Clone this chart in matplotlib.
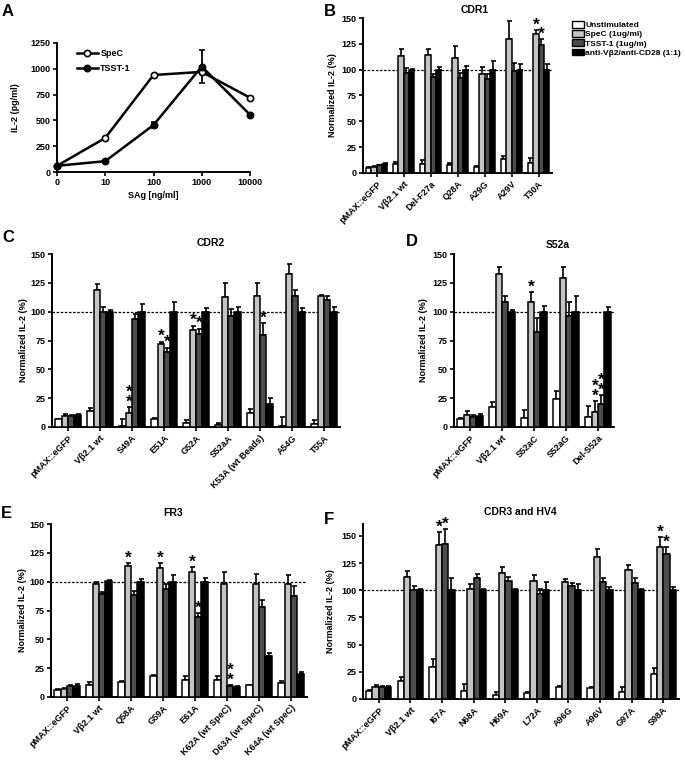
import matplotlib
matplotlib.use('Agg')
import matplotlib.pyplot as plt
from matplotlib.patches import Patch
from matplotlib.lines import Line2D
import numpy as np

plt.rcParams['font.family'] = ['Liberation Sans', 'DejaVu Sans']
plt.rcParams['font.weight'] = 'bold'
plt.rcParams['axes.labelweight'] = 'bold'
plt.rcParams['axes.linewidth'] = 1.4

# ---------------- Panel A data ----------------
a_doses = ['0', '10', '100', '1000', '10000']
a_spec = [60, 330, 940, 970, 720]
a_spec_err = [8, 10, 10, 20, 10]
a_tsst = [60, 105, 455, 1022, 555]
a_tsst_err = [8, 10, 33, 163, 10]

series_labels = ['Unstimulated', 'SpeC (1ug/ml)', 'TSST-1 (1ug/m)', 'anti-V\u03b22/anti-CD28 (1:1)']
bar_colors = ['white', '#c4c4c4', '#4d4d4d', 'black']

# ---------------- Panel B (CDR1) ----------------
b_cats = ['pMAX::eGFP', 'V\u03b22.1 wt', 'Del-F27a', 'Q28A', 'A29G', 'A29V', 'T30A']
b_unstim = [5, 9, 8.4, 7.7, 6, 13.5, 9.3]
b_spec = [6, 113.5, 114.5, 111, 96, 130, 134.7]
b_tsst = [7.5, 97, 93, 92, 90.7, 98.7, 124]
b_anti = [9, 100, 99.5, 100, 100, 100, 100]
b_unstim_err = [0.7, 2, 4, 1.6, 1, 3.2, 5.5]
b_spec_err = [0.7, 6.5, 5.5, 11.5, 7, 17, 3.3]
b_tsst_err = [0.7, 5, 2.5, 5, 5.3, 8, 6]
b_anti_err = [1, 1, 3, 4, 8, 5.5, 5]
b_stars = [(6, 1, 1), (6, 2, 1)]

# ---------------- Panel C (CDR2) ----------------
c_cats = ['pMAX::eGFP', 'V\u03b22.1 wt', 'S49A', 'E51A', 'G52A', 'S52aA', 'K53A (wt Beads)', 'A54G', 'T55A']
c_unstim = [6.7, 14, 1, 7.2, 3.5, 2, 12.5, 0.5, 3]
c_spec = [9.3, 118.7, 12, 71.8, 84, 113, 113.8, 133, 113.8]
c_tsst = [9.3, 100, 94, 65, 81, 96.4, 79.4, 113.5, 110]
c_anti = [10.1, 100, 100, 100, 100, 100, 20, 100, 100]
c_unstim_err = [0.5, 2.8, 5.7, 0.8, 2.3, 1.8, 2.8, 8.5, 3.4]
c_spec_err = [1.7, 5.3, 5.4, 2.2, 3.7, 11.5, 10.7, 8, 0.6]
c_tsst_err = [1, 4, 3.6, 3.6, 4.4, 5.6, 10.4, 5.2, 3.8]
c_anti_err = [1.4, 1.4, 7, 8, 3, 3.8, 5, 3, 3.8]
c_stars = [(2, 1, 2), (3, 1, 1), (3, 2, 1), (4, 1, 1), (4, 2, 1), (6, 2, 1)]

# ---------------- Panel D (S52a) ----------------
d_cats = ['pMAX::eGFP', 'V\u03b22.1 wt', 'S52aC', 'S52aG', 'Del-S52a']
d_unstim = [7, 17.3, 7.8, 24.5, 8.7]
d_spec = [10.7, 133, 108.7, 129, 13]
d_tsst = [8.6, 108, 82.8, 96.3, 20]
d_anti = [9.8, 100, 100, 100, 100]
d_unstim_err = [0.8, 4.7, 7.2, 6.5, 9.2]
d_spec_err = [2.8, 5.5, 8.1, 10, 9.8]
d_tsst_err = [2.1, 5.6, 11.5, 11.7, 8]
d_anti_err = [1.7, 1.5, 5, 14, 4.3]
d_stars = [(2, 1, 1), (4, 1, 2), (4, 2, 2)]

# ---------------- Panel E (FR3) ----------------
e_cats = ['pMAX::eGFP', 'V\u03b22.1 wt', 'Q58A', 'G59A', 'E61A', 'K62A (wt SpeC)', 'D63A (wt SpeC)', 'K64A (wt SpeC)']
e_unstim = [6.4, 10.7, 13, 17.9, 15, 15, 10, 12]
e_spec = [7.2, 98, 114, 112, 108.7, 98, 98, 98]
e_tsst = [9.8, 89.3, 88.7, 93.6, 69, 9.2, 77.7, 87.3]
e_anti = [9.2, 100.6, 100, 100, 100, 8.7, 35.8, 20]
e_unstim_err = [0.6, 2.6, 0.6, 1.5, 3, 3.5, 0.7, 1.6]
e_spec_err = [0.8, 1.4, 2, 4, 4, 10, 8.6, 8]
e_tsst_err = [0.9, 1.5, 2.9, 4.4, 3.8, 1.5, 6.7, 8.7]
e_anti_err = [1.8, 0.8, 2.6, 6, 3, 0.6, 2.2, 1.4]
e_stars = [(2, 1, 1), (3, 1, 1), (4, 1, 1), (4, 2, 1), (5, 2, 2)]

# ---------------- Panel F (CDR3 and HV4) ----------------
f_cats = ['pMAX::eGFP', 'V\u03b22.1 wt', 'I67A', 'N68A', 'H69A', 'L72A', 'A96G', 'A96V', 'G97A', 'S98A']
f_unstim = [7.7, 16.5, 29.7, 7.3, 3.7, 5.2, 11.3, 9.8, 6.1, 22.6]
f_spec = [10.7, 112.3, 142, 101, 116, 109, 107.7, 130.7, 119, 140]
f_tsst = [10.7, 100, 143, 111.4, 108.4, 97, 104, 107.7, 106.8, 133]
f_anti = [10.7, 100.6, 100, 100.6, 100, 100, 100, 100, 100, 100]
f_unstim_err = [0.6, 4, 7, 6.5, 3, 1.5, 0.7, 0.9, 4.6, 5.6]
f_spec_err = [2.2, 5.5, 11.7, 5, 5, 5, 3, 7.7, 4.7, 9]
f_tsst_err = [1.5, 3.7, 13.7, 3.4, 3.9, 4, 3, 4, 4.6, 7]
f_anti_err = [1.5, 1, 11.3, 1, 1, 7.6, 6, 3, 1.5, 3]
f_stars = [(2, 1, 1), (2, 2, 1), (9, 1, 1), (9, 2, 1)]

W, H = 685, 760
fig = plt.figure(figsize=(W / 100, H / 100), dpi=100)


def px_axes(left, top, right, bottom):
    return fig.add_axes([left / W, 1 - bottom / H, (right - left) / W, (bottom - top) / H])


TICK_FS = 6.5


def style_axes(ax):
    for s in ['top', 'right']:
        ax.spines[s].set_visible(False)
    ax.tick_params(axis='both', direction='out', length=3, width=1.2, labelsize=TICK_FS, pad=1.5)
    for lab in ax.get_yticklabels():
        lab.set_fontweight('bold')


def bar_panel(ax, cats, vals, errs, stars, ymax):
    n = len(cats)
    x = np.arange(n)
    w = 0.2
    ax.axhline(100, color='black', lw=0.9, ls=(0, (2, 1.3)), zorder=1)
    for s in range(4):
        pos = x + (s - 1.5) * w
        v = np.array(vals[s], dtype=float)
        e = np.array(errs[s], dtype=float)
        ax.bar(pos, v, w, color=bar_colors[s], edgecolor='black', linewidth=1.1, zorder=3)
        ax.errorbar(pos, v, yerr=[np.zeros(n), e], fmt='none', ecolor='black',
                    elinewidth=1.2, capsize=1.8, capthick=1.2, zorder=2)
    for g, s, cnt in stars:
        top = vals[s][g] + errs[s][g]
        txt = '\n'.join(['*'] * cnt)
        ax.text(g + (s - 1.5) * w, top + 4.5 + (cnt - 1) * 3.8, txt, ha='center', va='center',
                fontsize=12.5, fontweight='bold', linespacing=0.62, zorder=5)
    ax.set_xlim(-0.5, n - 0.5)
    ax.set_ylim(0, ymax)
    ax.set_yticks([0, 25, 50, 75, 100, 125, 150])
    ax.set_xticks(x)
    ax.set_xticklabels(cats, rotation=45, ha='right', rotation_mode='anchor',
                       fontsize=TICK_FS, fontweight='bold')
    ax.set_ylabel('Normalized IL-2 (%)', fontsize=6.5, fontweight='bold')
    style_axes(ax)


# ---------------- Panel A ----------------
axA = px_axes(57, 43, 250, 172)
xA = np.arange(len(a_doses))
axA.errorbar(xA, a_spec, yerr=a_spec_err, color='black', lw=1.8, marker='o', ms=4.5,
             mfc='white', mec='black', mew=1.2, capsize=2.5, capthick=1.3, elinewidth=1.3,
             clip_on=False, zorder=3, label='SpeC')
axA.errorbar(xA, a_tsst, yerr=a_tsst_err, color='black', lw=1.8, marker='o', ms=4.5,
             mfc='black', mec='black', mew=1.2, capsize=2.5, capthick=1.3, elinewidth=1.3,
             clip_on=False, zorder=3, label='TSST-1')
axA.set_xlim(0, len(a_doses) - 1)
axA.set_ylim(0, 1250)
axA.set_yticks([0, 250, 500, 750, 1000, 1250])
axA.set_xticks(xA)
axA.set_xticklabels(a_doses, fontsize=TICK_FS, fontweight='bold')
axA.set_xlabel('SAg [ng/ml]', fontsize=6.5, fontweight='bold', labelpad=3)
axA.set_ylabel('IL-2 (pg/ml)', fontsize=6.5, fontweight='bold')
axA.yaxis.set_label_coords(-0.19, 0.5)
style_axes(axA)
hA = [Line2D([0], [0], color='black', lw=1.8, marker='o', ms=4.5, mfc='white', mec='black', mew=1.2),
      Line2D([0], [0], color='black', lw=1.8, marker='o', ms=4.5, mfc='black', mec='black', mew=1.2)]
axA.legend(hA, ['SpeC', 'TSST-1'], loc='upper left', bbox_to_anchor=(0.07, 1.0), frameon=False,
           handlelength=2.3, handletextpad=0.3, labelspacing=0.6, borderpad=0.2,
           prop={'weight': 'bold', 'size': 6.5})

# ---------------- Panel B ----------------
axB = px_axes(363, 18, 552, 173)
bar_panel(axB, b_cats, [b_unstim, b_spec, b_tsst, b_anti],
          [b_unstim_err, b_spec_err, b_tsst_err, b_anti_err], b_stars, 150)
axB.yaxis.set_label_coords(-0.138, 0.5)

# ---------------- Panel C ----------------
axC = px_axes(52, 254, 340, 427)
bar_panel(axC, c_cats, [c_unstim, c_spec, c_tsst, c_anti],
          [c_unstim_err, c_spec_err, c_tsst_err, c_anti_err], c_stars, 150)
axC.yaxis.set_label_coords(-0.084, 0.5)

# ---------------- Panel D ----------------
axD = px_axes(454, 254, 614, 427)
bar_panel(axD, d_cats, [d_unstim, d_spec, d_tsst, d_anti],
          [d_unstim_err, d_spec_err, d_tsst_err, d_anti_err], d_stars, 150)
axD.yaxis.set_label_coords(-0.1625, 0.5)

# ---------------- Panel E ----------------
axE = px_axes(51, 524, 307, 697)
bar_panel(axE, e_cats, [e_unstim, e_spec, e_tsst, e_anti],
          [e_unstim_err, e_spec_err, e_tsst_err, e_anti_err], e_stars, 150)
axE.yaxis.set_label_coords(-0.094, 0.5)

# ---------------- Panel F ----------------
axF = px_axes(363, 524, 679, 699)
bar_panel(axF, f_cats, [f_unstim, f_spec, f_tsst, f_anti],
          [f_unstim_err, f_spec_err, f_tsst_err, f_anti_err], f_stars, 161)
axF.yaxis.set_label_coords(-0.089, 0.5)

# Legend for bar panels
handles = [Patch(facecolor=c, edgecolor='black', linewidth=1.0) for c in bar_colors]
fig.legend(handles, series_labels, loc='upper left', bbox_to_anchor=(572 / W, 1 - 21 / H),
           frameon=False, prop={'weight': 'bold', 'size': 6.0}, handlelength=1.4,
           handleheight=0.9, handletextpad=0.2, labelspacing=0.1, borderpad=0, borderaxespad=0)


def ftext(x, y, s, size, ha='center'):
    fig.text(x / W, 1 - y / H, s, ha=ha, va='center', fontsize=size, fontweight='bold')


# Titles
ftext(475, 10, 'CDR1', 7.5)
ftext(211, 243, 'CDR2', 7.5)
ftext(558, 245, 'S52a', 7.5)
ftext(173, 513, 'FR3', 7.5)
ftext(520, 512, 'CDR3 and HV4', 7.5)

# Panel letters
ftext(2, 11, 'A', 12, ha='left')
ftext(324, 11, 'B', 12, ha='left')
ftext(2, 238, 'C', 12, ha='left')
ftext(406, 241, 'D', 12, ha='left')
ftext(1, 514, 'E', 12, ha='left')
ftext(324, 519, 'F', 12, ha='left')

fig.savefig('out.png', dpi=100)
